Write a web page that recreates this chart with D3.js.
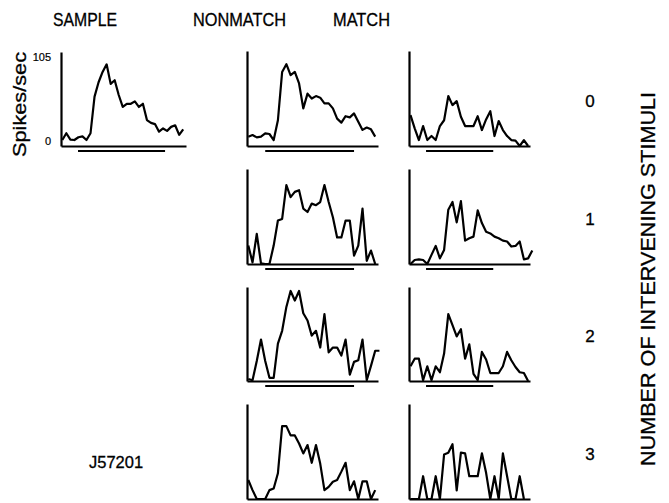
<!DOCTYPE html>
<html>
<head>
<meta charset="utf-8">
<script src="https://cdn.jsdelivr.net/npm/d3@7/dist/d3.min.js"></script>
<style>
  html, body { margin: 0; padding: 0; background: #fff; }
  svg { display: block; }
  text { font-family: "Liberation Sans", Arial, Helvetica, sans-serif; fill: #000; stroke: #000; stroke-width: 0.3; }
</style>
</head>
<body>
<svg id="chart" width="669" height="503"></svg>
<script>
// Firing rate (spikes/sec) per time bin for neuron J57201.
const sampleRates = [7.5, 16, 8, 7.5, 11, 12, 7.5, 16, 62, 80, 93, 102.5, 78, 82.5, 64, 49,
  53, 53, 56, 49, 53, 32.5, 29, 27.5, 18, 22, 19, 24, 26, 14, 21];

const nonmatch0 = [11.6, 13.6, 10.7, 11.6, 15.7, 14.9, 7.4, 32, 92, 101.6, 88, 92, 77.7, 46.7,
  65, 59, 62, 60, 53, 53, 46.7, 34, 29, 37, 35.5, 40.5, 30, 20, 23, 20.7, 11.6];
const nonmatch1 = [22.9, 2, 37.5, 0.8, 0, 0, 22.9, 54, 56, 98, 83, 89.6, 91.7, 68.8, 64.6, 75,
  73, 77, 98, 77, 58, 33, 33, 54, 54, 10.4, 22.9, 68.8, 4, 16.7, 0];
const nonmatch2 = [2.5, 1, 25, 52, 25, 4, 4, 47, 63, 93, 113, 101, 113, 85, 76, 57, 63, 42, 84,
  36, 42, 42, 32, 52, 8, 24, 26, 52, 1, 19, 38, 38];
const nonmatch3 = [23.6, 11, 0, 0, 0, 11, 13, 32, 90.5, 90.5, 79, 79, 69, 56.6, 67, 45, 67, 44,
  11, 15, 21.5, 23.6, 34, 45, 11, 22, 0, 22, 22, 0, 11];

const match0 = [38.4, 21.9, 7.4, 24.8, 7.4, 12.4, 7.4, 24.8, 32, 62, 50.8, 55.7, 36.3, 24.8,
  24.8, 24.8, 37, 19.8, 33, 43.3, 12.4, 31, 19.8, 12.4, 7.4, 6.6, 0, 7.4, 0];
const match1 = [0, 5, 5.8, 5, 0, 11.3, 22.5, 7, 17.5, 67.5, 77, 51.7, 78, 29, 32, 34, 66.7,
  50.8, 40, 38, 34, 32, 29, 28, 21.7, 22.5, 28, 5.8, 7, 16.7];
const match2 = [18.5, 28, 28, 1, 18.5, 1, 18.5, 11, 34.5, 84, 70, 56, 65, 28, 46, 9, 1, 36.5,
  27, 10, 10, 10, 18.5, 36.5, 26, 17.6, 11, 10, 0];
const match3 = [0, 0, 0, 28.3, 0, 0, 28.3, 0, 55.4, 57.5, 68, 10.8, 57.5, 56.7, 28.3, 28.3,
  28.3, 56.7, 32.5, 0, 28.3, 0, 56.7, 28.3, 0, 0, 28.3, 0];

const nonmatchRates = [nonmatch0, nonmatch1, nonmatch2, nonmatch3];
const matchRates = [match0, match1, match2, match3];

// Stimulus periods, in time bins.
const sampleStimulus = [3.9, 25.5];
const nonmatchStimulus = [4, 25];
const matchStimulus = [3.7, 19.7];

const columnTitles = ["SAMPLE", "NONMATCH", "MATCH"];
const interveningLabels = ["0", "1", "2", "3"];
const rateTicks = [0, 105];
const rateMax = 118;

const svg = d3.select("#chart");

// Column geometry (x extent of each panel's axes and bin width of its trace)
const columns = {
  sample:   { x0: 61,  x1: 186, start: 62.3,  bin: 4.03 },
  nonmatch: { x0: 247, x1: 378, start: 248.3, bin: 4.23 },
  match:    { x0: 409, x1: 530, start: 410.5, bin: 4.2 }
};
const rowTops = [51, 169, 287, 404];
const rowBases = [146, 264, 381, 499];

function drawPanel(col, top, base, rates, stim) {
  const g = svg.append("g");
  const y = d3.scaleLinear().domain([0, rateMax]).range([base, top]);
  const xAxisScale = d3.scaleLinear().domain([0, 1]).range([col.x0, col.x1]);
  const x = d3.scaleLinear().domain([0, 30]).range([col.start, col.start + 30 * col.bin]);

  // y axis line
  g.append("g")
    .attr("transform", `translate(${col.x0},0)`)
    .call(d3.axisLeft(y).tickValues([]).tickSizeOuter(0))
    .call(a => a.select(".domain").attr("stroke", "#000").attr("stroke-width", 2.2));

  // x axis line
  g.append("g")
    .attr("transform", `translate(0,${base})`)
    .call(d3.axisBottom(xAxisScale).tickValues([]).tickSizeOuter(0))
    .call(a => a.select(".domain").attr("stroke", "#000").attr("stroke-width", 2.2));

  // firing-rate trace
  const line = d3.line()
    .x((d, i) => x(i))
    .y(d => y(d));
  g.append("path")
    .datum(rates)
    .attr("d", line)
    .attr("fill", "none")
    .attr("stroke", "#000")
    .attr("stroke-width", 2.2)
    .attr("stroke-linejoin", "round");

  // stimulus bar
  if (stim && base + 6 < 503) {
    g.append("line")
      .attr("x1", x(stim[0])).attr("x2", x(stim[1]))
      .attr("y1", base + 5).attr("y2", base + 5)
      .attr("stroke", "#000").attr("stroke-width", 2.2);
  }
  return { g, y };
}

// Sample panel with labelled rate axis
const samplePanel = drawPanel(columns.sample, 52, 146, sampleRates, sampleStimulus);
samplePanel.g.selectAll("text.tick")
  .data(rateTicks)
  .join("text")
  .attr("class", "tick")
  .attr("x", 51)
  .attr("y", d => samplePanel.y(d) - 1)
  .attr("text-anchor", "end")
  .attr("font-size", 11)
  .style("stroke-width", 0.2)
  .text(d => d);

svg.append("text")
  .attr("transform", "translate(26,104.5) rotate(-90)")
  .attr("text-anchor", "middle")
  .attr("font-size", 18)
  .attr("textLength", 105)
  .attr("lengthAdjust", "spacingAndGlyphs")
  .text("Spikes/sec");

// Nonmatch and match panels for each number of intervening stimuli
nonmatchRates.forEach((rates, r) => {
  drawPanel(columns.nonmatch, rowTops[r], rowBases[r], rates, r < 3 ? nonmatchStimulus : null);
});
matchRates.forEach((rates, r) => {
  drawPanel(columns.match, rowTops[r], rowBases[r], rates, r < 3 ? matchStimulus : null);
});

// Column titles
const titlePos = [
  { cx: 85, w: 64 },
  { cx: 239.5, w: 93 },
  { cx: 361.5, w: 57 }
];
svg.selectAll("text.title")
  .data(columnTitles)
  .join("text")
  .attr("class", "title")
  .attr("x", (d, i) => titlePos[i].cx)
  .attr("y", 26)
  .attr("text-anchor", "middle")
  .attr("font-size", 18)
  .attr("textLength", (d, i) => titlePos[i].w)
  .attr("lengthAdjust", "spacingAndGlyphs")
  .text(d => d);

// Row labels: number of intervening stimuli
svg.selectAll("text.row")
  .data(interveningLabels)
  .join("text")
  .attr("class", "row")
  .attr("x", 590)
  .attr("y", (d, i) => (rowTops[i] + rowBases[i]) / 2 + 8)
  .attr("text-anchor", "middle")
  .attr("font-size", 17)
  .text(d => d);

svg.append("text")
  .attr("transform", "translate(655,279) rotate(-90)")
  .attr("text-anchor", "middle")
  .attr("font-size", 20)
  .attr("textLength", 374)
  .attr("lengthAdjust", "spacingAndGlyphs")
  .text("NUMBER OF INTERVENING STIMULI");

svg.append("text")
  .attr("x", 89)
  .attr("y", 468)
  .attr("font-size", 16.5)
  .text("J57201");
</script>
</body>
</html>
